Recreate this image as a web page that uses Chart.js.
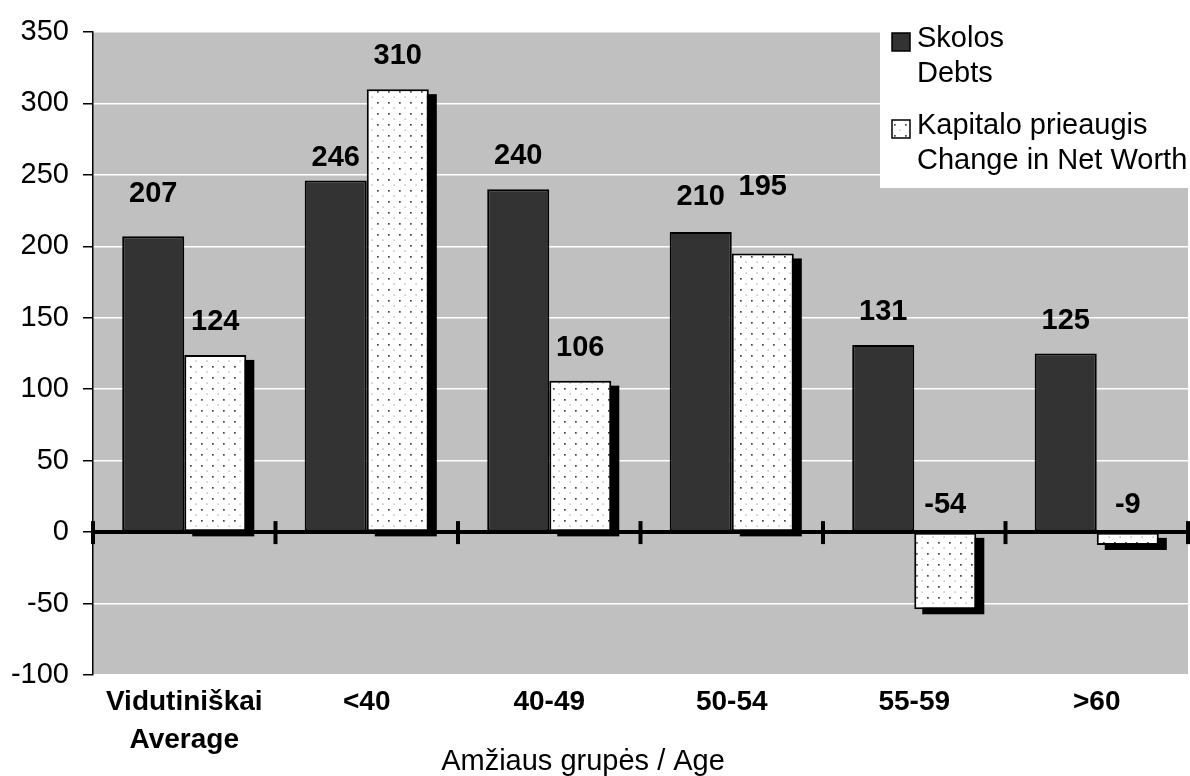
<!DOCTYPE html>
<html>
<head>
<meta charset="utf-8">
<script src="https://cdn.jsdelivr.net/npm/chart.js@4.4.1/dist/chart.umd.min.js"></script>
<style>
  body { margin: 0; background: #fff; }
  canvas { display: block; }
</style>
</head>
<body>
<canvas id="chart" width="1190" height="776"></canvas>
<script>
const categories = [["Vidutiniškai", "Average"], "<40", "40-49", "50-54", "55-59", ">60"];
const debts = [207, 246, 240, 210, 131, 125];
const netWorth = [124, 310, 106, 195, -54, -9];
const yTicks = [-100, -50, 0, 50, 100, 150, 200, 250, 300, 350];

const FONT = "'Liberation Sans', Arial, sans-serif";

// dotted fill used by Excel for the second series
function dotPattern() {
    const c = document.createElement("canvas");
    c.width = 11; c.height = 11;
    const g = c.getContext("2d");
    g.fillStyle = "#ffffff";
    g.fillRect(0, 0, 11, 11);
    g.fillStyle = "#444444";
    g.fillRect(3, 3, 1.7, 1.7);
    g.fillStyle = "#999999";
    g.fillRect(8.5, 8.5, 1.2, 1.2);
    return g.createPattern(c, "repeat");
}

const excelLook = {
    id: "excelLook",
    beforeDraw(chart) {
        const { ctx, chartArea: a } = chart;
        ctx.save();
        ctx.fillStyle = "#c0c0c0";
        ctx.fillRect(a.left, a.top, a.right - a.left, a.bottom - a.top);
        ctx.restore();
    },
    beforeDatasetDraw(chart, args) {
        if (args.index !== 1) return;
        const ctx = chart.ctx;
        ctx.save();
        ctx.fillStyle = "#000";
        chart.getDatasetMeta(1).data.forEach(bar => {
            const p = bar.getProps(["x", "y", "base", "width"], true);
            const top = Math.min(p.y, p.base);
            const bottom = Math.max(p.y, p.base);
            ctx.fillRect(p.x - p.width / 2 + 8, top + 5, p.width, bottom - top);
        });
        ctx.restore();
    },
    afterDatasetsDraw(chart, args, opts) {
        const { ctx, chartArea: a, scales } = chart;
        const y0 = scales.y.getPixelForValue(0);
        ctx.save();
        // zero line with category separators
        ctx.strokeStyle = "#000";
        ctx.lineWidth = 4;
        ctx.beginPath();
        ctx.moveTo(a.left, y0);
        ctx.lineTo(a.right, y0);
        ctx.stroke();
        const step = (a.right - a.left) / categories.length;
        for (let i = 0; i <= categories.length; i++) {
            const x = a.left + i * step;
            ctx.beginPath();
            ctx.moveTo(x, y0 - 11);
            ctx.lineTo(x, y0 + 12);
            ctx.stroke();
        }
        // value labels
        ctx.fillStyle = "#000";
        ctx.font = "bold 29px " + FONT;
        ctx.textAlign = "center";
        ctx.textBaseline = "middle";
        chart.data.datasets.forEach((ds, di) => {
            chart.getDatasetMeta(di).data.forEach((bar, i) => {
                const v = ds.data[i];
                const lift = opts.lift[di][i];
                const y = v >= 0 ? bar.y - 33 - lift : y0 - 27;
                ctx.fillText(String(v), bar.x, y);
            });
        });
        ctx.restore();
    },
    afterDraw(chart) {
        const ctx = chart.ctx;
        ctx.save();
        // legend box
        ctx.fillStyle = "#fff";
        ctx.fillRect(880, 0, 310, 188);
        ctx.fillStyle = "#333333";
        ctx.strokeStyle = "#000";
        ctx.lineWidth = 1.5;
        ctx.fillRect(892, 33, 18, 18);
        ctx.strokeRect(892, 33, 18, 18);
        ctx.fillStyle = chart.data.datasets[1].backgroundColor;
        ctx.fillRect(892, 120, 18, 18);
        ctx.strokeRect(892, 120, 18, 18);
        ctx.fillStyle = "#000";
        ctx.font = "29px " + FONT;
        ctx.textAlign = "left";
        ctx.textBaseline = "middle";
        ctx.fillText("Skolos", 917, 39);
        ctx.fillText("Debts", 917, 74);
        ctx.fillText("Kapitalo prieaugis", 917, 126);
        ctx.fillText("Change in Net Worth", 917, 161);
        // axis title
        ctx.textAlign = "center";
        ctx.fillText("Amžiaus grupės / Age", 583, 762);
        ctx.restore();
    }
};

new Chart(document.getElementById("chart"), {
    type: "bar",
    data: {
        labels: categories,
        datasets: [{
            label: "Skolos / Debts",
            data: debts,
            backgroundColor: "#333333",
            borderColor: "#000",
            borderWidth: 2,
            borderSkipped: false
        }, {
            label: "Kapitalo prieaugis / Change in Net Worth",
            data: netWorth,
            backgroundColor: dotPattern(),
            borderColor: "#000",
            borderWidth: 2,
            borderSkipped: false
        }]
    },
    options: {
        responsive: false,
        animation: false,
        layout: { padding: { top: 32, right: 2, left: 0, bottom: 0 } },
        datasets: { bar: { categoryPercentage: 0.68, barPercentage: 1.0 } },
        plugins: {
            legend: { display: false },
            tooltip: { enabled: false },
            excelLook: { lift: [[9, -10, 0, 2, 0, 0], [0, 0, 0, 33, 0, 0]] }
        },
        scales: {
            x: {
                grid: { display: false, drawTicks: false },
                border: { display: false },
                ticks: {
                    color: "#000",
                    padding: 8,
                    maxRotation: 0,
                    font: { family: FONT, size: 28, weight: "bold", lineHeight: 1.36 }
                },
                afterFit(scale) { scale.height = 101; }
            },
            y: {
                min: -100,
                max: 350,
                afterBuildTicks(scale) { scale.ticks = yTicks.map(v => ({ value: v })); },
                grid: {
                    color: ctx => (ctx.tick && ctx.tick.value === 0) ? "rgba(0,0,0,0)" : "#ffffff",
                    lineWidth: 1.5,
                    tickColor: "#000",
                    tickLength: 10
                },
                border: { color: "#000", width: 1.5 },
                ticks: {
                    color: "#000",
                    padding: 14,
                    font: { family: FONT, size: 29 }
                },
                afterFit(scale) { scale.width = 93; }
            }
        }
    },
    plugins: [excelLook]
});
</script>
</body>
</html>
